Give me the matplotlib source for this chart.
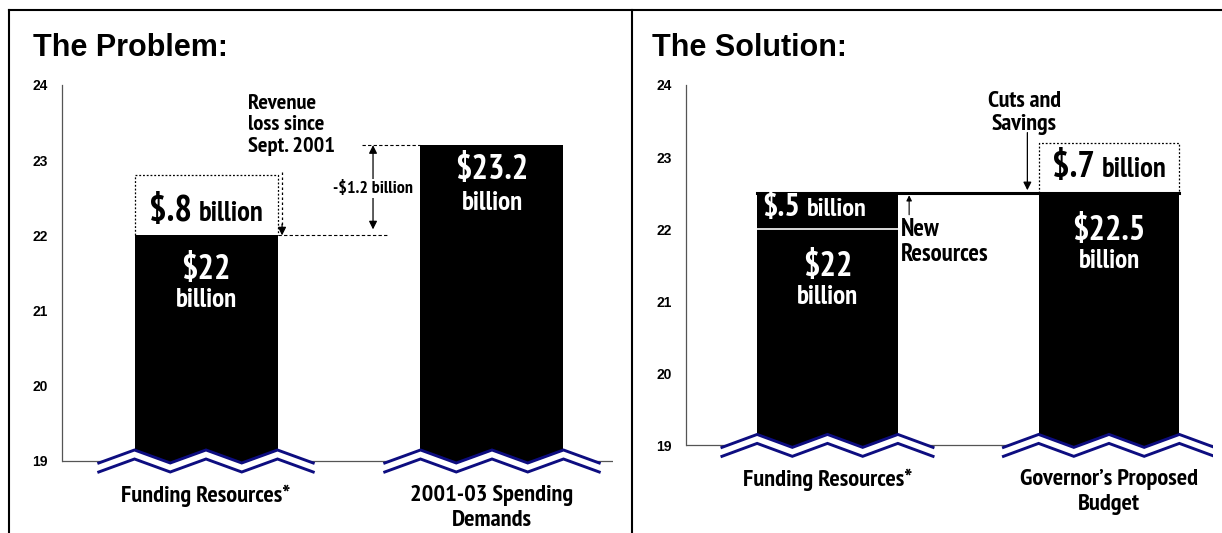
import os
import numpy as np
import matplotlib
matplotlib.use("Agg")
import matplotlib.pyplot as plt
from matplotlib import font_manager
from matplotlib.font_manager import FontProperties
from matplotlib.textpath import TextPath
from matplotlib.lines import Line2D
from matplotlib.offsetbox import TextArea, HPacker, AnnotationBbox

# values in $ billions
problem_labels = ["Funding Resources*", "2001-03 Spending\nDemands"]
problem_values = [22.0, 23.2]
revenue_loss = 0.8
spending_gap = 1.2

solution_labels = ["Funding Resources*", "Governor\u2019s Proposed\nBudget"]
base_resources = 22.0
new_resources = 0.5
proposed_budget = 22.5
cuts_savings = 0.7

y_ticks = [19, 20, 21, 22, 23, 24]


# pick a narrow bold sans face for the labels
def _narrow_rank(f):
    n = (f.name + " " + os.path.basename(f.fname)).lower()
    if "narrow" in n:
        s = 0
    elif "semicond" in n or "semcond" in n or "semi cond" in n:
        s = 1
    elif "extracond" in n or "ultracond" in n or "extra cond" in n:
        s = 3
    else:
        s = 2
    w = f.weight if isinstance(f.weight, int) else 700
    return (s, abs(w - 700), "sans" not in n, n)


_cands = [f for f in font_manager.fontManager.ttflist
          if f.style == "normal" and
          any(k in (f.name + os.path.basename(f.fname)).lower()
              for k in ("narrow", "cond"))]
if _cands:
    _best = sorted(_cands, key=_narrow_rank)[0]
    LABEL_FP = FontProperties(fname=_best.fname)
else:
    LABEL_FP = FontProperties(family=["Liberation Sans", "DejaVu Sans"],
                              weight="bold")

# size factor so "Funding Resources*" comes out about 182 px wide at 16.3 pt
_w = TextPath((0, 0), "Funding Resources*", size=16.3,
              prop=LABEL_FP).get_extents().width * 100 / 72
K = float(np.clip(182.0 / _w, 0.8, 1.08))

WIDE = ["Liberation Sans", "DejaVu Sans"]
NAVY = "#0d0d80"
AXIS_GREY = "#555555"

fig = plt.figure(figsize=(12.22, 5.33), dpi=100)
W, H = 1222.0, 533.0


def nfont(size, color="black"):
    fp = LABEL_FP.copy()
    fp.set_size(size * K)
    return dict(color=color, fontproperties=fp)


def make_axes(x0, x1, y_top, y_base, px_per_unit, bar_c0, bar_step):
    ax = fig.add_axes([x0 / W, 0, (x1 - x0) / W, (H - y_top) / H])
    ax.set_ylim(19 - (H - y_base) / px_per_unit, 24)
    ax.set_xlim(-bar_c0 / bar_step, (x1 - x0 - bar_c0) / bar_step)
    for s in ("top", "right", "bottom"):
        ax.spines[s].set_visible(False)
    ax.spines["left"].set_bounds(19, 24)
    ax.spines["left"].set_color(AXIS_GREY)
    ax.spines["left"].set_linewidth(0.9)
    ax.set_xticks([])
    ax.set_yticks(y_ticks)
    ax.tick_params(axis="y", length=0, pad=10)
    for t in ax.get_yticklabels():
        t.set_fontfamily(WIDE)
        t.set_fontweight("bold")
        t.set_fontsize(10)
    ax.plot(ax.get_xlim(), [19, 19], color=AXIS_GREY, lw=0.9, zorder=1)
    ax.patch.set_visible(False)
    return ax


def axis_break(ax, xc, width, px_per_unit):
    # double zigzag drawn across the foot of a bar
    xs = xc + width * np.array([-0.75, -0.5, -0.25, 0, 0.25, 0.5, 0.75])
    hi = 19 + 11 / px_per_unit
    lo = 19 - 2 / px_per_unit
    gap = 9 / px_per_unit
    up = np.array([lo, hi, lo, hi, lo, hi, lo])
    ax.fill_between(xs, up, ax.get_ylim()[0], color="white", zorder=3, lw=0)
    ax.plot(xs, up, color=NAVY, lw=2.1, zorder=4, solid_joinstyle="miter")
    ax.plot(xs, up - gap, color=NAVY, lw=2.1, zorder=4, solid_joinstyle="miter")


def two_size_label(ax, xy, big, small, color, big_size, small_size,
                   align=(0.5, 0.5)):
    parts = [TextArea(big, textprops=nfont(big_size, color)),
             TextArea(small, textprops=nfont(small_size, color))]
    box = HPacker(children=parts, align="baseline", pad=0, sep=5)
    ab = AnnotationBbox(box, xy, frameon=False, box_alignment=align, zorder=6)
    ax.add_artist(ab)


def bar_text(ax, x, y, s, size, color="white"):
    ax.text(x, y, s, ha="center", va="center", zorder=6, **nfont(size, color))


def category_labels(ax, labels):
    for i, lab in enumerate(labels):
        ax.annotate(lab, (i, 19), xytext=(0, -17), textcoords="offset points",
                    ha="center", va="top", linespacing=1.28,
                    annotation_clip=False, **nfont(16.3))


# ---------------- The Problem ----------------
px_l = 75.2
bw = 0.5
axl = make_axes(62, 613, 85, 461, px_l, 144, 286)
axl.bar(range(2), [v - 18.9 for v in problem_values], bottom=18.9,
        width=bw, color="black", zorder=2)
for i in range(2):
    axis_break(axl, i, bw, px_l)
category_labels(axl, problem_labels)

# dotted box for the lost revenue
x0, x1 = -bw / 2, bw / 2
top = problem_values[0] + revenue_loss
axl.plot([x0, x0, x1, x1], [problem_values[0], top, top, problem_values[0]],
         ls=(0, (1.5, 1.5)), color="black", lw=0.9, zorder=5)
two_size_label(axl, (0, problem_values[0] + revenue_loss * 0.4), "\\$.8",
               "billion", "black", 24.5, 19)

bar_text(axl, 0, 21.54, "\\$22", 23)
bar_text(axl, 0, 21.14, "billion", 18)
bar_text(axl, 1, 22.87, "\\$23.2", 23)
bar_text(axl, 1, 22.43, "billion", 18)

# revenue loss pointer
axl.text(0.147, 23.47, "Revenue\nloss since\nSept. 2001", ha="left",
         va="center", linespacing=1.17, **nfont(15))
axl.plot([0.266, 0.266], [problem_values[0] + revenue_loss + 0.04, 22.1],
         ls=(0, (2, 2)), color="black", lw=0.9)
axl.annotate("", xy=(0.266, 22.0), xytext=(0.266, 22.15),
             arrowprops=dict(arrowstyle="-|>", color="black", lw=0.9,
                             mutation_scale=12, shrinkA=0, shrinkB=0))

# gap between resources and spending demands
axl.plot([bw / 2, 0.633], [problem_values[0]] * 2, ls=(0, (3, 2)),
         color="black", lw=0.8)
axl.plot([0.545, 1 - bw / 2], [problem_values[1]] * 2, ls=(0, (3, 2)),
         color="black", lw=0.8)
axl.annotate("", xy=(0.584, problem_values[1]),
             xytext=(0.584, problem_values[0] + 0.08),
             arrowprops=dict(arrowstyle="<|-|>", color="black", lw=0.9,
                             mutation_scale=12, shrinkA=0, shrinkB=0))
axl.text(0.584, 22.62, "-\\$%.1f billion" % spending_gap, ha="center",
         va="center", bbox=dict(facecolor="white", edgecolor="none", pad=1),
         zorder=5, **nfont(12))

# ---------------- The Solution ----------------
px_r = 72.4
axr = make_axes(686, 1213, 85, 445, px_r, 141.5, 281.5)
axr.bar([0], [base_resources - 18.9], bottom=18.9, width=bw, color="black",
        zorder=2)
axr.bar([0], [new_resources], bottom=base_resources, width=bw, color="black",
        zorder=2)
axr.bar([1], [proposed_budget - 18.9], bottom=18.9, width=bw, color="black",
        zorder=2)
axr.plot([-bw / 2, bw / 2], [base_resources] * 2, color="white", lw=1.2,
         zorder=3)
axr.plot([-bw / 2, 1 + bw / 2], [proposed_budget] * 2, color="black", lw=2.2,
         zorder=3)
for i in range(2):
    axis_break(axr, i, bw, px_r)
category_labels(axr, solution_labels)

# dotted box for cuts and savings
top = proposed_budget + cuts_savings
axr.plot([1 - bw / 2, 1 - bw / 2, 1 + bw / 2, 1 + bw / 2],
         [proposed_budget, top, top, proposed_budget],
         ls=(0, (1.5, 1.5)), color="black", lw=0.9, zorder=5)
two_size_label(axr, (1, proposed_budget + cuts_savings * 0.5), "\\$.7",
               "billion", "black", 24.5, 19)
two_size_label(axr, (-0.233, base_resources + new_resources / 2 + 0.04),
               "\\$.5", "billion", "white", 21.5, 17.5, align=(0, 0.5))

bar_text(axr, 0, 21.47, "\\$22", 23)
bar_text(axr, 0, 21.06, "billion", 18)
bar_text(axr, 1, 21.97, "\\$22.5", 23)
bar_text(axr, 1, 21.56, "billion", 18)

axr.text(0.70, 23.61, "Cuts and\nSavings", ha="center", va="center",
         linespacing=1.17, **nfont(16))
axr.annotate("", xy=(0.71, proposed_budget + 0.04), xytext=(0.71, 23.34),
             arrowprops=dict(arrowstyle="-|>", color="black", lw=0.9,
                             mutation_scale=12, shrinkA=0, shrinkB=0))
axr.text(0.261, 21.82, "New\nResources", ha="left", va="center",
         linespacing=1.12, **nfont(16.5))
axr.annotate("", xy=(0.29, proposed_budget - 0.03), xytext=(0.29, 22.2),
             arrowprops=dict(arrowstyle="-|>", color="black", lw=0.8,
                             mutation_scale=8, shrinkA=0, shrinkB=0))

# panel titles and frame
fig.text(33 / W, 1 - 48 / H, "The Problem:", fontsize=22, fontweight="bold",
         family=WIDE, va="center")
fig.text(652 / W, 1 - 48 / H, "The Solution:", fontsize=22, fontweight="bold",
         family=WIDE, va="center")
yt = 1 - 10 / H
for xs, ys in [([9 / W, 1], [yt, yt]), ([9 / W, 9 / W], [0, yt]),
               ([632 / W, 632 / W], [0, yt])]:
    fig.add_artist(Line2D(xs, ys, color="black", lw=1.5))

fig.savefig("out.png", dpi=100)
